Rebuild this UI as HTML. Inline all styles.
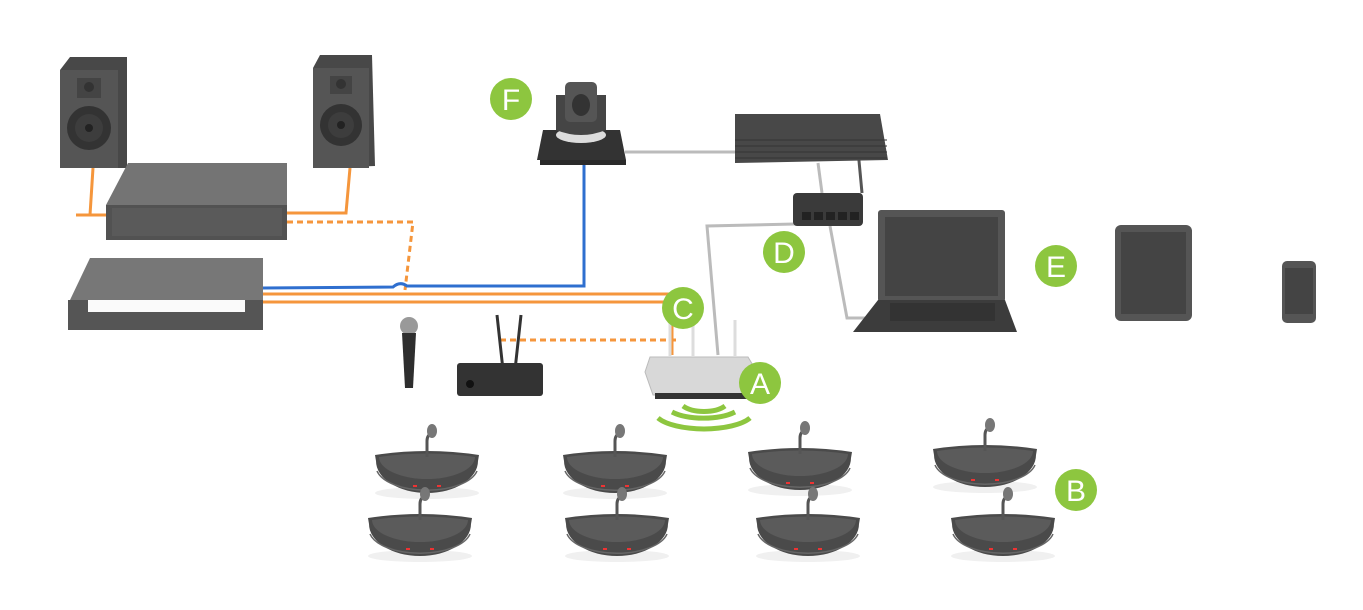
<!DOCTYPE html>
<html><head><meta charset="utf-8"><style>
html,body{margin:0;padding:0;background:#fff;}
svg{display:block}
.b{font-family:"Liberation Sans",sans-serif;font-size:30px;fill:#fff;text-anchor:middle;}
</style></head><body>
<svg width="1363" height="610" viewBox="0 0 1363 610" xmlns="http://www.w3.org/2000/svg">
<defs>
<g id="cu">
<ellipse cx="0" cy="38" rx="52" ry="6" fill="#f0f0f0"/>
<path d="M-52,0 Q0,-8 52,0 L51,6 A51,32 0 0 1 -51,6 Z" fill="#4a4a4a"/>
<path d="M-48,2 Q0,-5 48,2 A48,22 0 0 1 -48,2 Z" fill="#5b5b5b"/>
<path d="M-50,16 A51,24 0 0 0 50,16" fill="none" stroke="#666" stroke-width="1.5"/>
<rect x="-14" y="30" width="4" height="2" fill="#e33"/><rect x="10" y="30" width="4" height="2" fill="#e33"/>
<path d="M0,2 L0,-14 Q0,-20 5,-22" stroke="#555" stroke-width="3" fill="none"/>
<ellipse cx="5" cy="-24" rx="5" ry="7" fill="#777"/>
</g>
<g id="bd"><circle r="21" fill="#8dc63f"/></g>
</defs>
<g fill="none" stroke-width="3">
<path d="M93,168 L90,215 L76,215 L106,215" stroke="#f5963c"/>
<path d="M350,168 L346,213 L287,213" stroke="#f5963c"/>
<path d="M287,222 L413,222 L405,290" stroke="#f5963c" stroke-dasharray="6,4"/>
<path d="M263,288 L393,287 Q400,281 407,286 L584,286 L584,165" stroke="#2f6fcf"/>
<path d="M263,294 L672,294 L672,355" stroke="#f5963c"/>
<path d="M263,302 L693,302 L693,355" stroke="#f5963c"/>
<path d="M500,340 L680,340" stroke="#f5963c" stroke-dasharray="6,4"/>
<path d="M625,152 L735,152" stroke="#bbb"/>
<path d="M818,163 L822,193" stroke="#bbb"/>
<path d="M858,150 L862,193" stroke="#555"/>
<path d="M718,355 L707,226 L795,224" stroke="#bbb"/>
<path d="M830,226 L847,318 L880,318" stroke="#bbb"/>
</g>
<path d="M60,70 L70,57 L127,57 L127,168 L66,168 Z" fill="#484848"/>
<rect x="60" y="70" width="58" height="98" fill="#555"/>
<rect x="77" y="78" width="24" height="20" fill="#444"/>
<circle cx="89" cy="87" r="5" fill="#333"/>
<circle cx="89" cy="128" r="22" fill="#333"/><circle cx="89" cy="128" r="14" fill="#3d3d3d"/><circle cx="89" cy="128" r="4" fill="#222"/>
<path d="M313,68 L320,55 L372,55 L375,166 L318,168 Z" fill="#484848"/>
<rect x="313" y="68" width="56" height="100" fill="#555"/>
<rect x="330" y="76" width="22" height="18" fill="#444"/>
<circle cx="341" cy="84" r="5" fill="#333"/>
<circle cx="341" cy="125" r="21" fill="#333"/><circle cx="341" cy="125" r="13" fill="#3d3d3d"/><circle cx="341" cy="125" r="4" fill="#222"/>
<path d="M128,163 L287,163 L287,205 L106,205 Z" fill="#747474"/>
<rect x="106" y="205" width="181" height="35" fill="#525252"/>
<rect x="112" y="208" width="170" height="28" fill="#5a5a5a"/>
<path d="M90,258 L263,258 L263,300 L70,300 Z" fill="#777"/>
<rect x="68" y="300" width="195" height="30" fill="#555"/>
<rect x="88" y="300" width="157" height="12" fill="#fafafa"/>
<path d="M543,130 L620,130 L626,160 L537,160 Z" fill="#333"/>
<rect x="540" y="160" width="86" height="5" fill="#2a2a2a"/>
<ellipse cx="581" cy="135" rx="25" ry="8" fill="#ddd"/>
<path d="M556,95 L606,95 L606,130 Q581,140 556,130 Z" fill="#454545"/>
<rect x="565" y="82" width="32" height="40" rx="5" fill="#555"/>
<ellipse cx="581" cy="105" rx="9" ry="11" fill="#333"/>
<path d="M735,114 L880,114 L888,160 L735,163 Z" fill="#484848"/>
<g stroke="#333" stroke-width="1"><path d="M735,140 H887 M735,146 H887 M735,152 H887 M735,158 H887"/></g>
<rect x="793" y="193" width="70" height="33" rx="4" fill="#3a3a3a"/>
<g fill="#222"><rect x="802" y="212" width="9" height="8"/><rect x="814" y="212" width="9" height="8"/><rect x="826" y="212" width="9" height="8"/><rect x="838" y="212" width="9" height="8"/><rect x="850" y="212" width="9" height="8"/></g>
<rect x="878" y="210" width="127" height="92" rx="3" fill="#555"/>
<rect x="885" y="217" width="113" height="79" fill="#444"/>
<path d="M878,300 L1005,300 L1017,332 L853,332 Z" fill="#3c3c3c"/>
<rect x="890" y="303" width="105" height="18" fill="#333"/>
<rect x="1115" y="225" width="77" height="96" rx="6" fill="#555"/>
<rect x="1121" y="232" width="65" height="82" fill="#444"/>
<rect x="1282" y="261" width="34" height="62" rx="5" fill="#555"/>
<rect x="1285" y="268" width="28" height="46" fill="#444"/>
<ellipse cx="409" cy="326" rx="9" ry="9" fill="#999"/>
<path d="M402,333 L416,333 L413,388 L405,388 Z" fill="#2e2e2e"/>
<path d="M497,315 L503,370 M521,315 L515,370" stroke="#333" stroke-width="3"/>
<rect x="457" y="363" width="86" height="33" rx="3" fill="#333"/>
<circle cx="470" cy="384" r="4" fill="#111"/>
<path d="M670,320 V356 M693,320 V356 M735,320 V356" stroke="#ddd" stroke-width="3"/>
<path d="M650,357 L748,357 L757,372 L757,395 L653,395 L645,372 Z" fill="#d8d8d8" stroke="#bbb"/>
<rect x="655" y="393" width="100" height="6" fill="#333"/>
<g fill="none" stroke="#8dc63f" stroke-width="5">
<path d="M683,406 A25,12 0 0 0 725,406"/>
<path d="M672,412 A40,16 0 0 0 735,412"/>
<path d="M658,418 A50,18 0 0 0 750,418"/>
</g>
<use href="#cu" x="427" y="455"/>
<use href="#cu" x="615" y="455"/>
<use href="#cu" x="800" y="452"/>
<use href="#cu" x="985" y="449"/>
<use href="#cu" x="420" y="518"/>
<use href="#cu" x="617" y="518"/>
<use href="#cu" x="808" y="518"/>
<use href="#cu" x="1003" y="518"/>
<use href="#bd" x="511" y="99"/><text class="b" x="511" y="110">F</text>
<use href="#bd" x="784" y="252"/><text class="b" x="784" y="263">D</text>
<use href="#bd" x="1056" y="266"/><text class="b" x="1056" y="277">E</text>
<use href="#bd" x="683" y="308"/><text class="b" x="683" y="319">C</text>
<use href="#bd" x="760" y="383"/><text class="b" x="760" y="394">A</text>
<use href="#bd" x="1076" y="490"/><text class="b" x="1076" y="501">B</text>
</svg>
</body></html>
